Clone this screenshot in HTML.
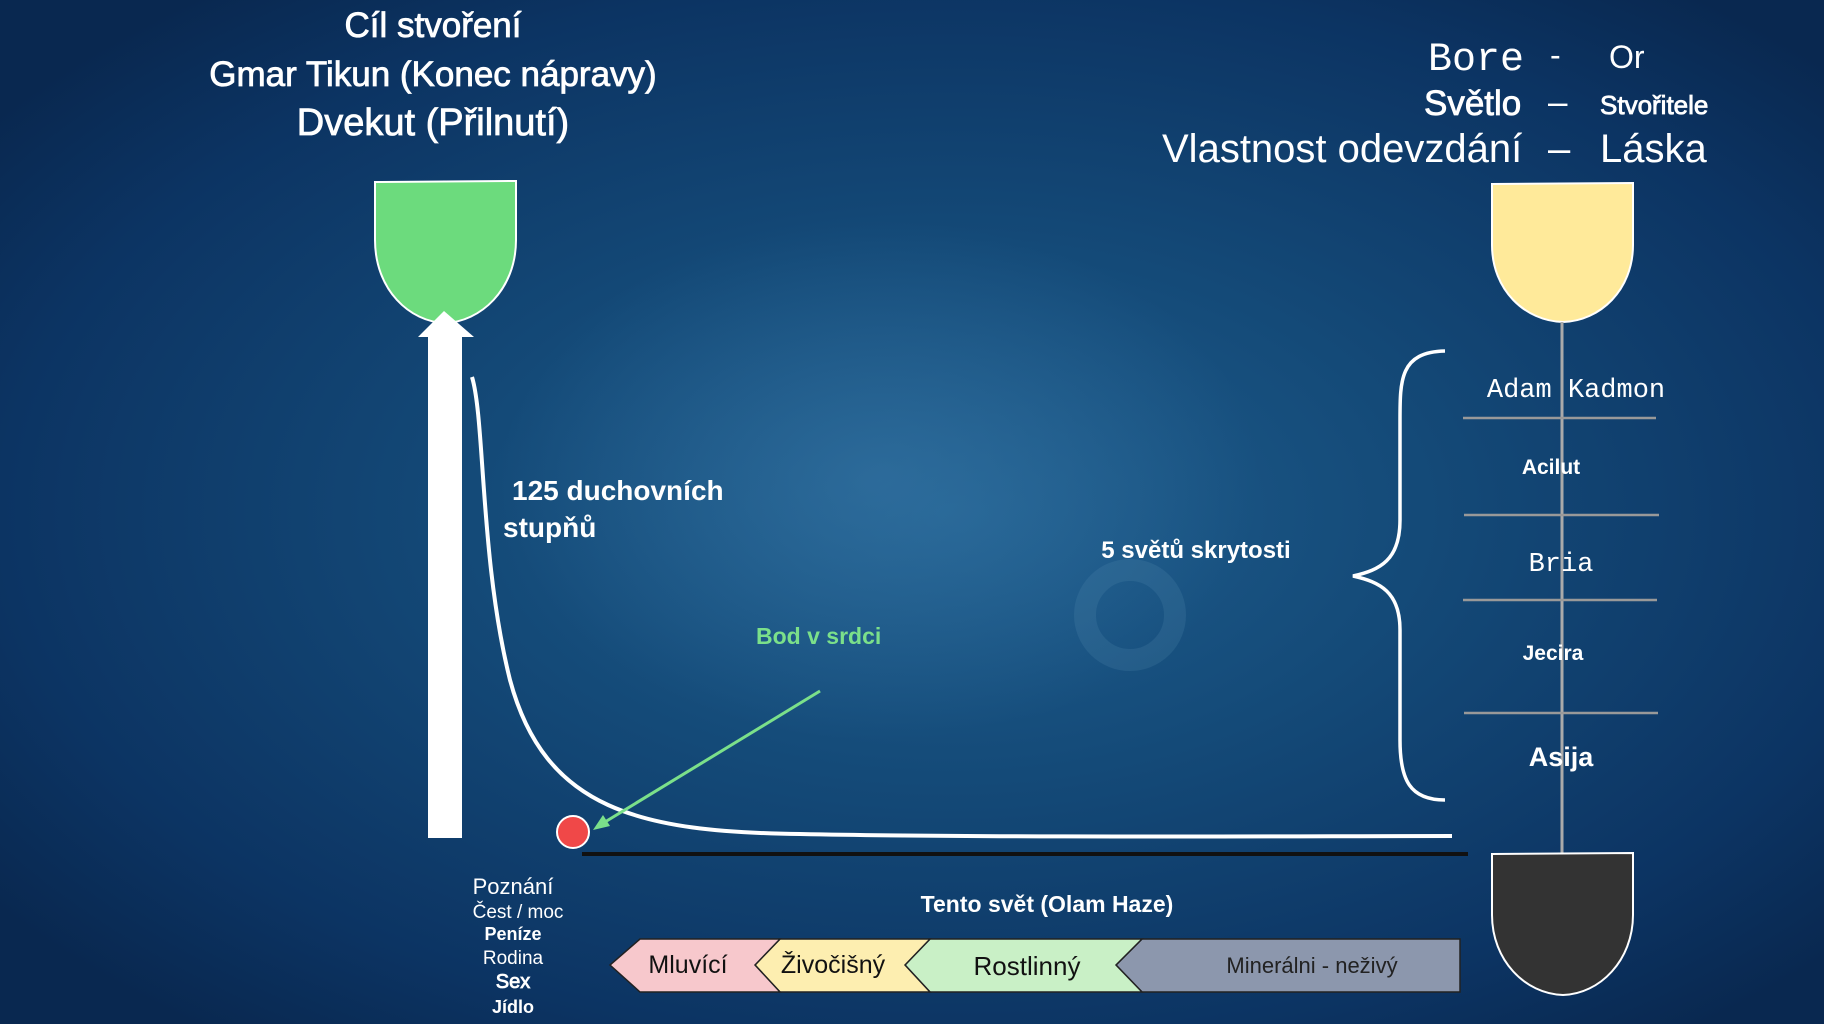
<!DOCTYPE html>
<html><head><meta charset="utf-8">
<style>
html,body{margin:0;padding:0;width:1824px;height:1024px;overflow:hidden;background:#0b2d55;}
svg{display:block}
text{font-family:"Liberation Sans","DejaVu Sans",sans-serif;fill:#fff}
.m{font-family:"Liberation Mono","DejaVu Sans Mono",monospace}
.sb{stroke:#fff;stroke-width:0.8px}
</style></head><body>
<svg width="1824" height="1024" viewBox="0 0 1824 1024" xmlns="http://www.w3.org/2000/svg">
<defs>
<radialGradient id="bg" cx="0.52" cy="0.5" r="0.65">
<stop offset="0" stop-color="#1f5e8e"/>
<stop offset="0.4" stop-color="#144a78"/>
<stop offset="0.8" stop-color="#0c3463"/>
<stop offset="1" stop-color="#092850"/>
</radialGradient>
<radialGradient id="glow" cx="0.5" cy="0.5" r="0.5">
<stop offset="0" stop-color="#3f7fae" stop-opacity="0.45"/>
<stop offset="1" stop-color="#3f7fae" stop-opacity="0"/>
</radialGradient>
</defs>
<rect width="1824" height="1024" fill="url(#bg)"/>
<ellipse cx="880" cy="480" rx="380" ry="260" fill="url(#glow)"/>
<circle cx="1130" cy="615" r="45" fill="none" stroke="#5b8fb5" stroke-opacity="0.2" stroke-width="22"/>

<!-- Titles left -->
<text x="433" y="37" font-size="35" text-anchor="middle" class="sb">Cíl stvoření</text>
<text x="433" y="86" font-size="35" text-anchor="middle" class="sb">Gmar Tikun (Konec nápravy)</text>
<text x="433" y="135" font-size="38" text-anchor="middle" class="sb">Dvekut (Přilnutí)</text>

<!-- Titles right -->
<text x="1428" y="70" font-size="40" class="m">Bore</text>
<text x="1550" y="66" font-size="32">-</text>
<text x="1609" y="68" font-size="32">Or</text>
<text x="1424" y="115" font-size="35" class="sb">Světlo</text>
<text x="1548" y="114" font-size="35">–</text>
<text x="1600" y="114" font-size="26" class="sb">Stvořitele</text>
<text x="1162" y="162" font-size="40">Vlastnost odevzdání</text>
<text x="1548" y="162" font-size="40">–</text>
<text x="1600" y="162" font-size="40">Láska</text>

<!-- Green cup -->
<path d="M375,182 L516,181 L516,240 C516,290 480,322 445,323 C410,322 375,290 375,240 Z" fill="#6cdb7d" stroke="#fff" stroke-width="2"/>
<polygon points="444,311 474,337 462,337 462,838 428,838 428,337 418,337" fill="#fff"/>
<path d="M472,377 C485,420 480,560 510,680 C545,810 640,832 800,834 C1000,838 1300,836 1452,836" fill="none" stroke="#fff" stroke-width="4"/>
<line x1="582" y1="854" x2="1468" y2="854" stroke="#111" stroke-width="4"/>
<line x1="820" y1="691" x2="600" y2="825" stroke="#7be08a" stroke-width="3"/>
<polygon points="593,830 603,815 610,826" fill="#7be08a"/>
<circle cx="573" cy="832" r="16" fill="#f04848" stroke="#fff" stroke-width="2"/>

<text x="756" y="644" font-size="23" font-weight="bold" style="fill:#7be08a">Bod v srdci</text>
<text x="512" y="500" font-size="28" font-weight="bold">125 duchovních</text>
<text x="503" y="537" font-size="28" font-weight="bold">stupňů</text>
<text x="1196" y="558" font-size="24" font-weight="bold" text-anchor="middle">5 světů skrytosti</text>

<path d="M1445,351 C1400,352 1400,380 1400,420 L1400,520 C1400,560 1380,570 1353,576 C1380,582 1400,592 1400,630 L1400,740 C1400,780 1410,800 1445,800" fill="none" stroke="#fff" stroke-width="3.5"/>

<path d="M1492,184 L1633,183 L1633,245 C1633,290 1600,321 1563,322 C1525,321 1492,290 1492,245 Z" fill="#ffea9a" stroke="#fff" stroke-width="2"/>
<line x1="1562" y1="322" x2="1562" y2="856" stroke="#aaa" stroke-width="3"/>
<g stroke="#999" stroke-width="2.5">
<line x1="1463" y1="418" x2="1656" y2="418"/>
<line x1="1464" y1="515" x2="1659" y2="515"/>
<line x1="1463" y1="600" x2="1657" y2="600"/>
<line x1="1464" y1="713" x2="1658" y2="713"/>
</g>
<text x="1576" y="397" font-size="27" class="m" text-anchor="middle">Adam Kadmon</text>
<text x="1551" y="474" font-size="21" font-weight="bold" text-anchor="middle">Acilut</text>
<text x="1561" y="571" font-size="27" class="m" text-anchor="middle">Bria</text>
<text x="1553" y="660" font-size="21" font-weight="bold" text-anchor="middle">Jecira</text>
<text x="1561" y="766" font-size="27" font-weight="bold" text-anchor="middle">Asija</text>

<path d="M1492,854 L1633,853 L1633,915 C1633,960 1600,994 1563,995 C1525,994 1492,960 1492,915 Z" fill="#333" stroke="#fff" stroke-width="2"/>

<g text-anchor="middle">
<text x="513" y="894" font-size="22">Poznání</text>
<text x="518" y="918" font-size="19">Čest / moc</text>
<text x="513" y="940" font-size="18" font-weight="bold">Peníze</text>
<text x="513" y="964" font-size="19">Rodina</text>
<text x="513" y="988" font-size="20" class="sb">Sex</text>
<text x="513" y="1013" font-size="18" font-weight="bold">Jídlo</text>
</g>
<text x="1047" y="912" font-size="23" font-weight="bold" text-anchor="middle">Tento svět (Olam Haze)</text>

<polygon points="1142,939 1460,939 1460,992 1142,992 1116,965" fill="#8c97ad" stroke="#222" stroke-width="1.5"/>
<polygon points="930,939 1142,939 1116,965 1142,992 930,992 905,965" fill="#c9f0c6" stroke="#222" stroke-width="1.5"/>
<polygon points="780,939 930,939 905,965 930,992 780,992 755,965" fill="#fdeeb0" stroke="#222" stroke-width="1.5"/>
<polygon points="640,939 780,939 755,965 780,992 640,992 610,965" fill="#f7c8cc" stroke="#222" stroke-width="1.5"/>
<text x="688" y="973" font-size="25" text-anchor="middle" style="fill:#111">Mluvící</text>
<text x="833" y="973" font-size="25" text-anchor="middle" style="fill:#111">Živočišný</text>
<text x="1027" y="975" font-size="26" text-anchor="middle" style="fill:#111">Rostlinný</text>
<text x="1312" y="973" font-size="22" text-anchor="middle" style="fill:#222">Minerálni - neživý</text>
</svg>
</body></html>
